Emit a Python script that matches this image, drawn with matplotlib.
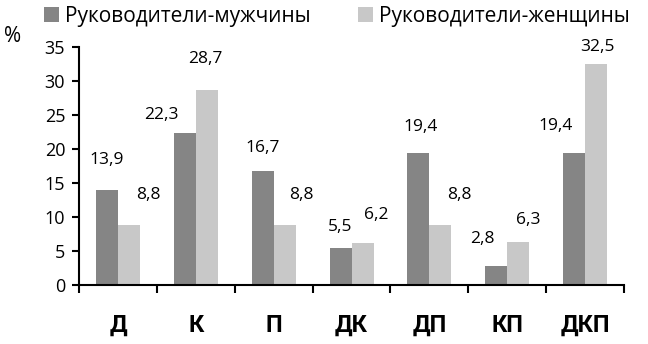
import numpy as np
import matplotlib
matplotlib.use('Agg')
import matplotlib.pyplot as plt
from matplotlib.ticker import FixedLocator

# data
categories = ['Д', 'К', 'П', 'ДК', 'ДП', 'КП', 'ДКП']
men = [13.9, 22.3, 16.7, 5.5, 19.4, 2.8, 19.4]
women = [8.8, 28.7, 8.8, 6.2, 8.8, 6.3, 32.5]
series_names = ['Руководители-мужчины', 'Руководители-женщины']

# label nudges (pixels) - labels were moved by hand in the original
men_off = [(0, 30), (-23, 18), (0, 23), (0, 21), (2, 26), (-14, 27), (-18, 27)]
women_off = [(19, 30), (-2, 31), (17, 30), (14, 28), (19, 30), (10, 22), (1, 17)]

plt.rcParams['font.family'] = ['Open Sans', 'DejaVu Sans']

fig = plt.figure(figsize=(6.48, 3.44), dpi=100)
ax = fig.add_axes([0.122, 0.1715, 0.841, 0.692])

x = np.arange(len(categories))
w = 0.283
b1 = ax.bar(x - w / 2, men, w, color='#858585', label=series_names[0])
b2 = ax.bar(x + w / 2, women, w, color='#c8c8c8', label=series_names[1])

for bars, vals, offs in [(b1, men, men_off), (b2, women, women_off)]:
    for r, v, (dx, dy) in zip(bars, vals, offs):
        ax.annotate(f'{v:.1f}'.replace('.', ','),
                    (r.get_x() + r.get_width() / 2, v),
                    xytext=(dx, dy), textcoords='offset pixels',
                    ha='center', va='center', fontsize=12.5)

ax.set_xlim(-0.5, len(categories) - 0.5)
ax.set_ylim(0, 35)
ax.set_yticks(range(0, 36, 5))
ax.set_xticks(x)
ax.set_xticklabels(categories, fontsize=17, fontweight='bold', family='Roboto')
ax.xaxis.set_minor_locator(FixedLocator(np.arange(-0.5, len(categories), 1)))
ax.tick_params(axis='x', which='major', length=0, pad=21)
ax.tick_params(axis='x', which='minor', length=6, width=1.5, direction='out')
ax.tick_params(axis='y', length=5, width=1.5, labelsize=13, pad=5)

for s in ['top', 'right']:
    ax.spines[s].set_visible(False)
for s in ['left', 'bottom']:
    ax.spines[s].set_linewidth(1.5)

fig.text(0.006, 0.893, '%', fontsize=15, va='center')

fig.legend(loc='center', bbox_to_anchor=(0.52, 0.953), ncol=2, frameon=False,
           fontsize=15, handlelength=0.72, handleheight=0.72, handletextpad=0.29,
           columnspacing=2.3, borderpad=0, borderaxespad=0)

fig.savefig('out.png', dpi=100)
